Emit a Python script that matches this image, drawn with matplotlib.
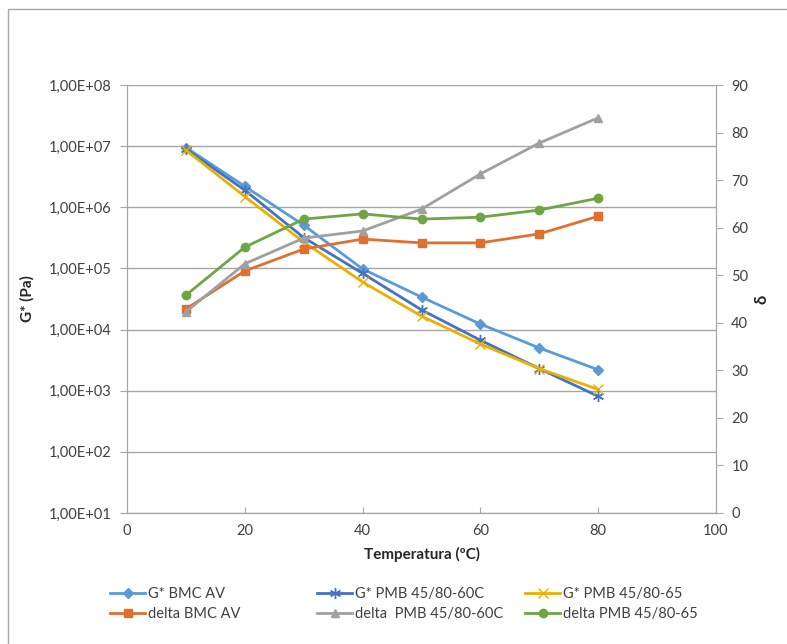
import matplotlib.pyplot as plt
import numpy as np
from matplotlib.ticker import FuncFormatter, FixedLocator, NullLocator
from matplotlib.patches import Rectangle

plt.rcParams['font.family'] = ['Lato', 'DejaVu Sans']

temp = [10, 20, 30, 40, 50, 60, 70, 80]

# G* (Pa), left log axis
g_bmc = [9.5e6, 2.2e6, 5.1e5, 9.8e4, 3.4e4, 1.23e4, 5.0e3, 2.2e3]
g_pmb60c = [9.0e6, 1.9e6, 3.2e5, 8.3e4, 2.1e4, 6.7e3, 2.3e3, 8.1e2]
g_pmb65 = [8.6e6, 1.5e6, 2.7e5, 6.0e4, 1.66e4, 5.8e3, 2.3e3, 1.05e3]

# delta (deg), right axis
d_bmc = [42.9, 50.9, 55.5, 57.6, 56.8, 56.8, 58.7, 62.4]
d_pmb60c = [42.3, 52.4, 57.8, 59.3, 63.9, 71.3, 77.8, 83.1]
d_pmb65 = [45.8, 55.9, 61.8, 62.9, 61.8, 62.2, 63.7, 66.2]

fig = plt.figure(figsize=(7.87, 6.44), dpi=100)
ax = fig.add_axes([127/787, 1-513/644, (716-127)/787, (513-85)/644])
ax2 = ax.twinx()

# borde del grafico (solo se ven arriba e izquierda)
fig.patches.append(Rectangle((8/787, -0.1), 2, 1.1 - 9/644, transform=fig.transFigure,
                             fill=False, edgecolor='#a6a6a6', lw=1))

tick_col = '#404040'
grid_col = '#a6a6a6'

l1, = ax.plot(temp, g_bmc, color='#5b9bd5', lw=2, marker='D', ms=5, label='G* BMC AV')
l2, = ax.plot(temp, g_pmb60c, color='#4472c4', lw=2, marker=(6, 2, 0), ms=8, mew=1, label='G* PMB 45/80-60C')
l3, = ax.plot(temp, g_pmb65, color='#e8b100', lw=2, marker='x', ms=7, mew=1, label='G* PMB 45/80-65')

l4, = ax2.plot(temp, d_bmc, color='#e0702e', lw=2, marker='s', ms=6, label='delta BMC AV')
l5, = ax2.plot(temp, d_pmb60c, color='#a0a0a0', lw=2, marker='^', ms=6, label='delta  PMB 45/80-60C')
l6, = ax2.plot(temp, d_pmb65, color='#6fa544', lw=2, marker='o', ms=6, label='delta PMB 45/80-65')

ax.set_yscale('log')
ax.set_ylim(1e1, 1e8)
ax.set_xlim(0, 100)
ax2.set_ylim(0, 90)

ax.yaxis.set_major_locator(FixedLocator([10.0**k for k in range(1, 9)]))
ax.yaxis.set_minor_locator(NullLocator())


def sci_fmt(v, pos):
    e = int(np.floor(np.log10(v) + 1e-9))
    m = v / 10**e
    return f"{m:.2f}E{e:+03d}".replace('.', ',')


ax.yaxis.set_major_formatter(FuncFormatter(sci_fmt))
ax.set_xticks(range(0, 101, 20))
ax2.set_yticks(range(0, 91, 10))

ax.grid(axis='y', color=grid_col, lw=1)
ax.set_axisbelow(True)

for a in (ax, ax2):
    for s in a.spines.values():
        s.set_color(grid_col)
    a.spines['top'].set_visible(False)
ax.tick_params(axis='y', which='major', direction='out', length=5, color=grid_col,
               labelcolor=tick_col, labelsize=10.5, pad=6)
ax.tick_params(axis='x', direction='in', length=4, color=grid_col,
               labelcolor=tick_col, labelsize=10.5, pad=8)
ax2.tick_params(axis='y', direction='out', length=5, color=grid_col,
                labelcolor=tick_col, labelsize=10.5, pad=6)

ax.set_xlabel('Temperatura (ºC)', fontsize=11, fontweight='bold', color='#262626', labelpad=6)
ax.set_ylabel('G* (Pa)', fontsize=11, fontweight='bold', color='#262626', labelpad=10)
ax2.set_ylabel('δ', fontsize=12, fontweight='bold', color='#262626', labelpad=4, rotation=90)

# leyenda: tres columnas de igual ancho, como en Excel
col_x = [110, 317, 525]
cols = [(l1, l4), (l2, l5), (l3, l6)]
for x0, hs in zip(col_x, cols):
    fig.legend(handles=list(hs), labels=[h.get_label() for h in hs],
               loc='center left', bbox_to_anchor=(x0/787, 1-604/644),
               frameon=False, fontsize=10.5, handlelength=2.4, labelcolor=tick_col,
               handletextpad=0.2, labelspacing=0.45, borderpad=0, borderaxespad=0)

fig.savefig('out.png', dpi=100)
